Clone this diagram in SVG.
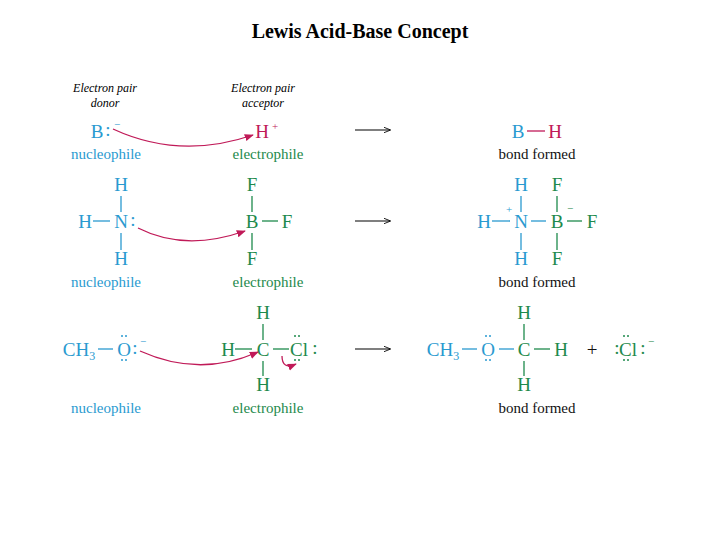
<svg xmlns="http://www.w3.org/2000/svg" width="720" height="540" viewBox="0 0 720 540">
<defs>
<style>
text{font-family:"Liberation Serif",serif}
.t{font-size:20px;font-weight:bold;text-anchor:middle;fill:#000}
.i{font-size:12px;font-style:italic;text-anchor:middle;fill:#000}
.a{font-size:19px;text-anchor:middle}
.s{font-size:11px;text-anchor:middle}
.l{font-size:15px;text-anchor:middle}
.b{fill:#2a9ad0;stroke:none}
.g{fill:#1e8a4c;stroke:none}
.m{fill:#c01a58;stroke:none}
.k{fill:#111}
.bl{stroke:#2a9ad0;stroke-width:1.3}
.gl{stroke:#1e8a4c;stroke-width:1.3}
.ml{stroke:#c01a58;stroke-width:1.3}
.cv{fill:none;stroke:#c01a58;stroke-width:1.3}
.rx{stroke:#000;stroke-width:1.2}
</style>
<marker id="mh" viewBox="0 0 10 10" refX="9" refY="5" markerWidth="7" markerHeight="7" orient="auto"><path d="M0,1 L10,5 L0,9 z" fill="#c01a58"/></marker>
<marker id="kh" viewBox="0 0 10 10" refX="9" refY="5" markerWidth="6" markerHeight="6" orient="auto"><path d="M0,1 L10,5 L0,9" fill="none" stroke="#000" stroke-width="1.2"/></marker>
</defs>
<text class="t" x="360" y="38">Lewis Acid-Base Concept</text>
<g id="headers">
<text class="i" x="105" y="92">Electron pair</text><text class="i" x="105" y="107">donor</text>
<text class="i" x="263" y="92">Electron pair</text><text class="i" x="263" y="107">acceptor</text>
</g>
<g id="row1-nuc">
<text class="a b" x="97" y="138">B</text><text class="a b" x="108" y="136">:</text><text class="s b" x="117" y="128">−</text>
<text class="l b" x="106" y="159">nucleophile</text>
</g>
<g id="row1-elec">
<text class="a m" x="262" y="138">H</text><text class="s m" x="275" y="130">+</text>
<text class="l g" x="268" y="159">electrophile</text>
</g>
<g id="row1-prod">
<text class="a b" x="518" y="138">B</text><line class="ml" x1="527" y1="131" x2="545" y2="131"/><text class="a m" x="555" y="138">H</text>
<text class="l k" x="537" y="159">bond formed</text>
</g>
<g id="row2-nuc">
<text class="a b" x="121" y="191">H</text><line class="bl" x1="121" y1="196" x2="121" y2="212"/>
<text class="a b" x="85" y="228">H</text><line class="bl" x1="93" y1="221" x2="110" y2="221"/>
<text class="a b" x="121" y="228">N</text><text class="a b" x="133" y="226">:</text>
<line class="bl" x1="121" y1="233" x2="121" y2="250"/><text class="a b" x="121" y="265">H</text>
<text class="l b" x="106" y="287">nucleophile</text>
</g>
<g id="row2-elec">
<text class="a g" x="252" y="191">F</text><line class="gl" x1="252" y1="196" x2="252" y2="212"/>
<text class="a g" x="252" y="228">B</text><line class="gl" x1="262" y1="221" x2="278" y2="221"/><text class="a g" x="287" y="228">F</text>
<line class="gl" x1="252" y1="233" x2="252" y2="250"/><text class="a g" x="252" y="265">F</text>
<text class="l g" x="268" y="287">electrophile</text>
</g>
<g id="row2-prod">
<text class="a b" x="521" y="191">H</text><line class="bl" x1="521" y1="196" x2="521" y2="212"/>
<text class="a b" x="484" y="228">H</text><line class="bl" x1="492" y1="221" x2="510" y2="221"/>
<text class="s b" x="509" y="213">+</text>
<text class="a b" x="521" y="228">N</text><line class="bl" x1="531" y1="221" x2="546" y2="221"/>
<line class="bl" x1="521" y1="233" x2="521" y2="250"/><text class="a b" x="521" y="265">H</text>
<text class="a g" x="557" y="191">F</text><line class="gl" x1="557" y1="196" x2="557" y2="212"/>
<text class="a g" x="557" y="228">B</text><text class="s g" x="570" y="212">−</text>
<line class="gl" x1="567" y1="221" x2="582" y2="221"/><text class="a g" x="592" y="228">F</text>
<line class="gl" x1="557" y1="233" x2="557" y2="250"/><text class="a g" x="557" y="265">F</text>
<text class="l k" x="537" y="287">bond formed</text>
</g>
<g id="row3-nuc">
<text class="a b" x="79" y="356">CH<tspan font-size="12" dy="4">3</tspan></text>
<line class="bl" x1="98" y1="349" x2="113" y2="349"/>
<text class="a b" x="124" y="356">O</text>
<g class="b"><circle cx="122" cy="336" r="1"/><circle cx="126" cy="336" r="1"/><circle cx="122" cy="360" r="1"/><circle cx="126" cy="360" r="1"/></g>
<text class="a b" x="135" y="354">:</text><text class="s b" x="143" y="345">−</text>
<text class="l b" x="106" y="413">nucleophile</text>
</g>
<g id="row3-elec">
<text class="a g" x="263" y="319">H</text><line class="gl" x1="263" y1="324" x2="263" y2="340"/>
<text class="a g" x="228" y="356">H</text><line class="gl" x1="235" y1="349" x2="252" y2="349"/>
<text class="a g" x="263" y="356">C</text><line class="gl" x1="273" y1="349" x2="289" y2="349"/>
<text class="a g" x="299" y="356">Cl</text>
<g class="g"><circle cx="295" cy="336" r="1"/><circle cx="299" cy="336" r="1"/><circle cx="295" cy="360" r="1"/><circle cx="299" cy="360" r="1"/></g>
<text class="a g" x="315" y="354">:</text>
<line class="gl" x1="263" y1="361" x2="263" y2="376"/><text class="a g" x="263" y="391">H</text>
<text class="l g" x="268" y="413">electrophile</text>
</g>
<g id="row3-prod">
<text class="a b" x="443" y="356">CH<tspan font-size="12" dy="4">3</tspan></text>
<line class="bl" x1="462" y1="349" x2="477" y2="349"/>
<text class="a b" x="488" y="356">O</text>
<g class="b"><circle cx="486" cy="336" r="1"/><circle cx="490" cy="336" r="1"/><circle cx="486" cy="360" r="1"/><circle cx="490" cy="360" r="1"/></g>
<line class="bl" x1="499" y1="349" x2="514" y2="349"/>
<text class="a g" x="524" y="319">H</text><line class="gl" x1="524" y1="324" x2="524" y2="340"/>
<text class="a g" x="524" y="356">C</text><line class="gl" x1="534" y1="349" x2="550" y2="349"/>
<text class="a g" x="561" y="356">H</text>
<line class="gl" x1="524" y1="361" x2="524" y2="376"/><text class="a g" x="524" y="391">H</text>
<text class="a k" x="592" y="356">+</text>
<text class="a g" x="617" y="354">:</text><text class="a g" x="628" y="356">Cl</text>
<g class="g"><circle cx="624" cy="336" r="1"/><circle cx="628" cy="336" r="1"/><circle cx="624" cy="360" r="1"/><circle cx="628" cy="360" r="1"/></g>
<text class="a g" x="643" y="354">:</text><text class="s g" x="651" y="345">−</text>
<text class="l k" x="537" y="413">bond formed</text>
</g>
<g id="connectors">
<path class="cv" d="M113,129 Q180,160 253,135" marker-end="url(#mh)"/>
<path class="cv" d="M138,228 Q185,252 245,231" marker-end="url(#mh)"/>
<path class="cv" d="M140,351 Q200,378 258,352" marker-end="url(#mh)"/>
<path class="cv" d="M282,356 Q282,370 296,364" marker-end="url(#mh)"/>
<line class="rx" x1="355" y1="130" x2="390" y2="130" marker-end="url(#kh)"/>
<line class="rx" x1="355" y1="221" x2="390" y2="221" marker-end="url(#kh)"/>
<line class="rx" x1="355" y1="349" x2="390" y2="349" marker-end="url(#kh)"/>
</g>
</svg>
